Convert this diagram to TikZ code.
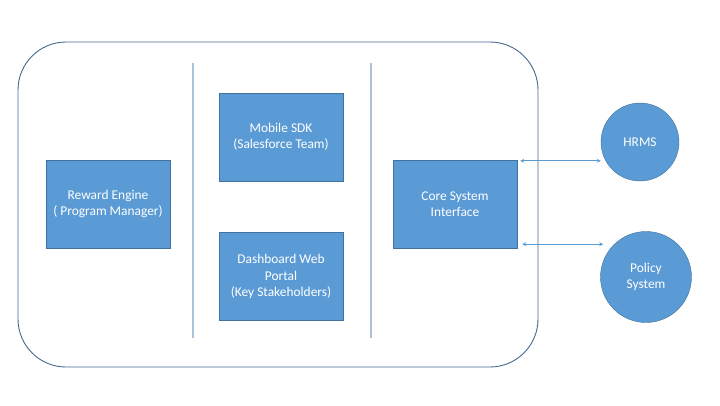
\documentclass[tikz,border=0pt]{standalone}
\usepackage{fontspec}
\setmainfont{Carlito}
\usetikzlibrary{arrows.meta,positioning,calc}
\definecolor{boxblue}{HTML}{5B9BD5}
\definecolor{edgeblue}{HTML}{41719C}
\definecolor{framecol}{HTML}{46698E}
\definecolor{sepblue}{HTML}{A8C2DC}

\begin{document}
\begin{tikzpicture}[x=1pt,y=-1pt,>={Stealth[length=4pt,width=4pt]},font=\fontsize{13.4}{16.5}\selectfont]
        \tikzstyle{block} = [rectangle, draw=edgeblue, fill=boxblue, text=white, minimum width=124pt, minimum height=88pt, align=center, inner sep=0pt]
        \tikzstyle{ext} = [circle, draw=edgeblue, fill=boxblue, text=white, align=center, inner sep=0pt]
        \tikzstyle{frame} = [rectangle, draw=framecol, line width=0.9pt, rounded corners=48pt]
        \tikzstyle{sep} = [draw=sepblue, line width=1.2pt]
        \tikzstyle{link} = [<->, draw=boxblue, line width=0.8pt]

        \useasboundingbox (0,0) rectangle (720,405);

        % Frame
        \node[frame, minimum width=520pt, minimum height=325pt] (sys) at (278,204.5) {};
        \draw[sep] (193,63) -- (193,338);
        \draw[sep] (371,63) -- (371,338);

        % Nodes
        \node[block] (reward) at (108,204) {Reward Engine\\( Program Manager)};
        \node[block] (mobile) at (281,137) {Mobile SDK\\(Salesforce Team)};
        \node[block] (dash) at (281,276.5) {Dashboard Web\\Portal\\(Key Stakeholders)};
        \node[block] (core) at (455,204) {Core System\\Interface};
        \node[ext, minimum size=78pt] (hrms) at (640,142) {HRMS};
        \node[ext, minimum size=91pt] (policy) at (646,277) {Policy\\System};

        % Edges
        \coordinate (h1) at ([shift={(3,1)}]core.north east);
        \coordinate (p1) at ([shift={(5,-4)}]core.south east);
        \draw[link] (h1) -- (h1 -| hrms.west);
        \draw[link] (p1) -- ($(p1 -| policy.west)+(3,0)$);
    \end{tikzpicture}
\end{document}
